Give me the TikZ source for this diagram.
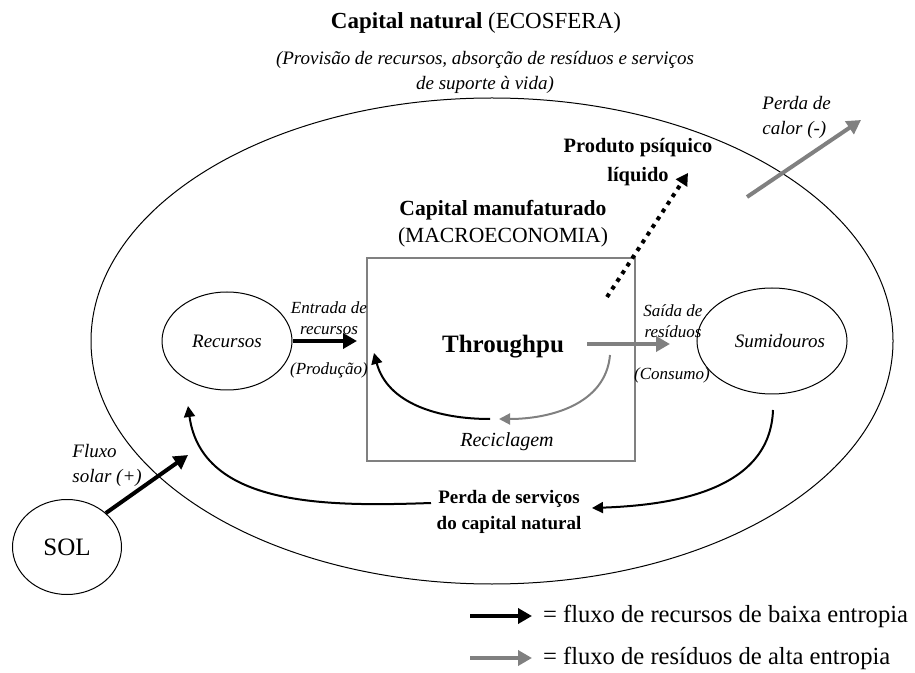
\documentclass[tikz,border=0pt]{standalone}
\usepackage{fontspec}
\setmainfont{Liberation Serif}
\usetikzlibrary{shapes.geometric,arrows.meta,positioning}

\tikzset{
  blob/.style={ellipse,draw,line width=0.5pt,inner sep=0pt},
  lowflow/.style={line width=2pt,-{Triangle[length=7pt,width=7.5pt]}},
  highflow/.style={line width=2pt,gray,-{Triangle[length=7pt,width=7.5pt]}},
  thinlow/.style={line width=1pt,-{Triangle[length=5.5pt,width=5.5pt]}},
  thinhigh/.style={line width=1pt,gray,-{Triangle[length=5.5pt,width=5.5pt]}},
  lbl/.style={font=\fontsize{8.5}{10.5}\selectfont\itshape,align=center,inner sep=0pt}
}

\begin{document}
\begin{tikzpicture}[x=0.5pt,y=-0.5pt]
\useasboundingbox (0,0) rectangle (915,673);
% ecosfera
\node[blob,minimum width=401pt,minimum height=243pt] (eco) at (492,341) {};
\node at (476,23) {\fontsize{11.5}{14}\selectfont\textbf{Capital natural} (ECOSFERA)};
\node[align=center,font=\fontsize{9.5}{12.5}\selectfont\itshape] (prov) at (485,72)
  {(Provisão de recursos, absorção de resíduos e serviços\\de suporte à vida)};
% macroeconomia
\node[draw=gray,line width=0.75pt,minimum width=134pt,minimum height=101.5pt] (box) at (501,359.5) {};
\node[align=center,font=\fontsize{10.8}{13.5}\selectfont] (mac) at (503,224)
  {\textbf{Capital manufaturado}\\(MACROECONOMIA)};
\node[font=\fontsize{12.5}{15}\selectfont\bfseries] (tp) at (503,347) {Throughpu};
\node[blob,minimum width=65pt,minimum height=49pt,font=\fontsize{9.5}{12}\selectfont\itshape] (rec) at (227,341) {Recursos};
\node[blob,minimum width=66pt,minimum height=53pt,font=\fontsize{9.5}{12}\selectfont\itshape] (sum) at (772,341) {\hspace{8pt}Sumidouros};
\node[blob,minimum width=54.5pt,minimum height=47.5pt,font=\fontsize{12.5}{14}\selectfont] (sol) at (67,547) {SOL};
% fluxos
\coordinate (inend) at (357,341);
\draw[lowflow] (rec.east) -- (inend);
\node[lbl] at (329,318) {Entrada de\\recursos};
\node[lbl] at (329,370) {(Produção)};
\coordinate (outstart) at (587,344);
\coordinate (outend) at (670,344);
\draw[highflow] (outstart) -- (outend);
\node[lbl] at (673,321) {Saída de\\resíduos};
\node[lbl] at (672,375) {(Consumo)};
% reciclagem
\coordinate (rc1) at (610,355);
\coordinate (rc2) at (499,419);
\coordinate (rc3) at (490,419);
\coordinate (rc4) at (374,353);
\draw[thinhigh] (rc1) to[out=-95,in=0] (rc2);
\draw[thinlow] (rc3) to[out=180,in=-75] (rc4);
\node[lbl,font=\fontsize{10}{12}\selectfont\itshape] at (507,442) {Reciclagem};
% produto psiquico
\node[align=center,font=\fontsize{10.2}{14.5}\selectfont\bfseries] (psi) at (638,162) {Produto psíquico\\líquido};
\coordinate (ps1) at (607,297);
\coordinate (ps2) at (688,173);
\draw[line width=2pt,dash pattern=on 2pt off 2.6pt,-{Triangle[length=6pt,width=6.5pt]}] (ps1) -- (ps2);
% calor
\coordinate (cal1) at (747,197);
\coordinate (cal2) at (861,120);
\draw[highflow] (cal1) -- (cal2);
\node[lbl,font=\fontsize{9.5}{12.5}\selectfont\itshape,align=left,anchor=west] at (762,117) {Perda de\\calor (-)};
% sol
\coordinate (sun) at (188,455);
\draw[lowflow] (sol.north east) -- (sun);
\node[lbl,font=\fontsize{9.5}{12.5}\selectfont\itshape,align=left,anchor=west] at (72,465) {Fluxo\\solar (+)};
% perda de servicos
\node[align=center,font=\fontsize{9.5}{13}\selectfont\bfseries] (serv) at (509,512) {Perda de serviços\\do capital natural};
\coordinate (sv1) at (773,410);
\coordinate (sv2) at (592,508);
\coordinate (sv3) at (431,503);
\coordinate (sv4) at (188,406);
\draw[thinlow] (sv1) to[out=-92,in=2] (sv2);
\draw[thinlow] (sv3) to[out=182,in=-82] (sv4);
% legenda
\coordinate (lg1) at (470,616);
\coordinate (lg2) at (532,616);
\coordinate (lg3) at (470,658);
\coordinate (lg4) at (532,658);
\draw[lowflow,line width=1.8pt] (lg1) -- (lg2);
\draw[highflow,line width=1.8pt] (lg3) -- (lg4);
\node[anchor=west,font=\fontsize{12.3}{14}\selectfont] at (536,616) {= fluxo de recursos de baixa entropia};
\node[anchor=west,font=\fontsize{12.3}{14}\selectfont] at (536,658) {= fluxo de resíduos de alta entropia};
\end{tikzpicture}
\end{document}
